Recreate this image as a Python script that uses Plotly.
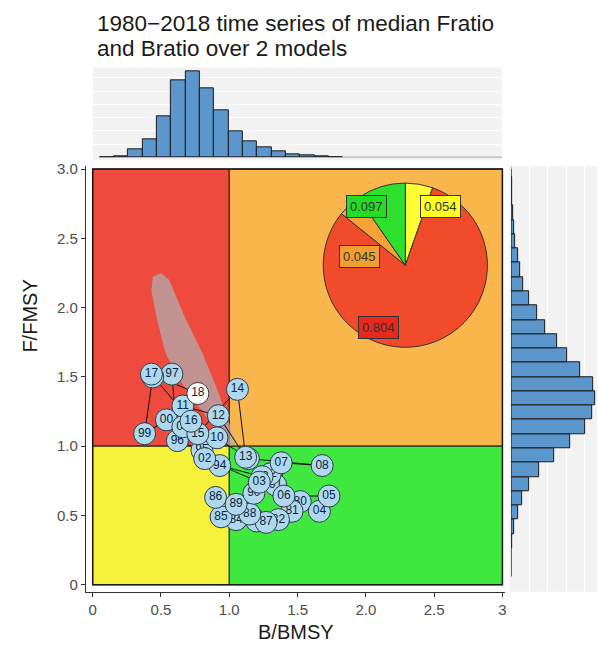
import plotly.graph_objects as go

# ---- Kobe trajectory: median B/BMSY and F/FMSY by year ----
years = list(range(1980, 2019))
b_ratio = [1.52, 1.46, 1.36, 1.20, 1.05, 0.94, 0.90, 1.27, 1.15, 1.05,
           1.18, 1.34, 1.30, 1.24, 0.93, 0.80, 0.62, 0.58, 0.44, 0.38,
           0.54, 0.66, 0.82, 1.22, 1.66, 1.73, 1.40, 1.38, 1.68, 1.14,
           0.91, 0.66, 0.92, 1.12, 1.06, 0.77, 0.72, 0.43, 0.77]
f_ratio = [0.60, 0.53, 0.47, 0.46, 0.47, 0.49, 0.63, 0.45, 0.51, 0.58,
           0.66, 0.72, 0.80, 0.78, 0.86, 0.97, 1.04, 1.52, 1.50, 1.09,
           1.19, 1.14, 0.91, 0.74, 0.53, 0.64, 0.64, 0.88, 0.86, 0.91,
           1.06, 1.29, 1.22, 0.92, 1.41, 1.09, 1.18, 1.52, 1.38]
year_labels = [f"{y % 100:02d}" for y in years]

# ---- Final-year uncertainty region ----
region_b = [0.44, 0.50, 0.56, 0.68, 0.80, 0.90, 0.97, 1.05, 1.00, 0.90,
            0.78, 0.62, 0.53, 0.47, 0.43, 0.44]
region_f = [2.22, 2.25, 2.20, 1.92, 1.68, 1.44, 1.25, 1.02, 1.00, 1.12,
            1.28, 1.50, 1.68, 1.92, 2.12, 2.22]

# ---- Marginal histograms ----
b_bin_start, b_bin_width = 0.05, 0.105
b_counts = [1, 2, 23, 53, 125, 233, 260, 208, 143, 78, 47, 29, 17, 10, 5, 2, 1]
f_bin_start, f_bin_width = 0.058, 0.103
f_counts = [1, 1, 3, 8, 20, 33, 53, 83, 128, 176, 223, 243, 253, 246, 208,
            168, 138, 103, 78, 53, 36, 28, 20, 12, 8, 5, 3, 2, 1]

# ---- Kobe quadrant probabilities (clockwise from 12 o'clock) ----
quad_names = ["yellow", "red", "orange", "green"]
quad_share = [0.054, 0.804, 0.045, 0.097]
pie_colors = ["#FFFF33", "#F24B2C", "#F5A238", "#2EE02E"]
box_colors = ["#FFFF22", "#E8281E", "#F0A030", "#22DD22"]
# label centres in pixels (x, y from top)
box_pos = [(441, 203), (379, 325), (360, 253), (367, 203)]

# ---- Quadrant layout ----
b_ref, f_ref = 1.0, 1.0
b_max, f_max = 3.0, 3.0
zone_colors = {"red": "#EF4A3E", "orange": "#F8B64C",
               "yellow": "#F6F23C", "green": "#3EE83E"}

W, H = 598, 653
def px(x):
    return x / W
def py(y):
    return 1 - y / H

FONT = "Liberation Sans, Arial"

b_centres = [b_bin_start + (i + 0.5) * b_bin_width for i in range(len(b_counts))]
f_centres = [f_bin_start + (i + 0.5) * f_bin_width for i in range(len(f_counts))]

fig = go.Figure()

# uncertainty region
fig.add_trace(go.Scatter(
    x=region_b, y=region_f, mode="lines", fill="toself",
    fillcolor="rgba(175,175,175,0.72)", line=dict(width=0),
    hoverinfo="skip", showlegend=False, xaxis="x", yaxis="y"))

# trajectory path
fig.add_trace(go.Scatter(
    x=b_ratio, y=f_ratio, mode="lines", line=dict(color="#111111", width=1),
    hoverinfo="skip", showlegend=False, xaxis="x", yaxis="y"))

# one labelled point per year, drawn in order so later years sit on top
for i, (b, f, lab) in enumerate(zip(b_ratio, f_ratio, year_labels)):
    fill = "#FFFFFF" if i == len(years) - 1 else "#AFD8EC"
    fig.add_trace(go.Scatter(
        x=[b], y=[f], mode="markers+text", text=[lab],
        textposition="middle center",
        textfont=dict(family=FONT, size=12, color="#0B2440"),
        marker=dict(size=22, color=fill, line=dict(color="#2A3B4C", width=1)),
        name=str(years[i]), showlegend=False, xaxis="x", yaxis="y"))

# top marginal histogram (B/BMSY)
fig.add_trace(go.Bar(
    x=b_centres, y=b_counts, width=b_bin_width,
    marker=dict(color="#5B97CC", line=dict(color="#1A1A1A", width=1)),
    showlegend=False, xaxis="x2", yaxis="y2"))

# right marginal histogram (F/FMSY)
fig.add_trace(go.Bar(
    y=f_centres, x=f_counts, width=f_bin_width, orientation="h",
    marker=dict(color="#5B97CC", line=dict(color="#1A1A1A", width=1)),
    showlegend=False, xaxis="x3", yaxis="y3"))

# quadrant probability pie
pie_cx, pie_cy, pie_r = 406, 262, 83
fig.add_trace(go.Pie(
    values=quad_share, labels=quad_names, sort=False, direction="clockwise",
    rotation=0, textinfo="none", hoverinfo="label+value",
    marker=dict(colors=pie_colors, line=dict(color="#333333", width=1)),
    domain=dict(x=[px(pie_cx - pie_r), px(pie_cx + pie_r)],
                y=[py(pie_cy + pie_r), py(pie_cy - pie_r)]),
    showlegend=False))

shapes = []
# marginal panel backgrounds
shapes.append(dict(type="rect", xref="x2 domain", yref="y2 domain",
                   x0=0, x1=1, y0=-0.03, y1=1, fillcolor="#F2F2F2",
                   line=dict(width=0), layer="below"))
shapes.append(dict(type="rect", xref="x3 domain", yref="y3 domain",
                   x0=-0.02, x1=1, y0=0, y1=1, fillcolor="#F2F2F2",
                   line=dict(width=0), layer="below"))
# histogram baselines
shapes.append(dict(type="line", xref="x2", yref="y2",
                   x0=b_bin_start, x1=b_max, y0=0, y1=0,
                   line=dict(color="#1A1A1A", width=1)))
shapes.append(dict(type="line", xref="x3", yref="y3",
                   x0=0, x1=0, y0=f_bin_start, y1=f_max,
                   line=dict(color="#1A1A1A", width=1)))
# kobe quadrants
zones = [("red", 0, b_ref, f_ref, f_max), ("orange", b_ref, b_max, f_ref, f_max),
         ("yellow", 0, b_ref, 0, f_ref), ("green", b_ref, b_max, 0, f_ref)]
for name, x0, x1, y0, y1 in zones:
    shapes.append(dict(type="rect", xref="x", yref="y", x0=x0, x1=x1, y0=y0, y1=y1,
                       fillcolor=zone_colors[name],
                       line=dict(color="#1A1A1A", width=1), layer="below"))
shapes.append(dict(type="rect", xref="x", yref="y", x0=0, x1=b_max, y0=0, y1=f_max,
                   fillcolor="rgba(0,0,0,0)", line=dict(color="#1A1A1A", width=1.5),
                   layer="below"))

annotations = []
for share, col, (bx, by) in zip(quad_share, box_colors, box_pos):
    annotations.append(dict(
        x=px(bx), y=py(by), xref="paper", yref="paper", showarrow=False,
        xanchor="center", yanchor="middle",
        text=f"{share:.3f}", font=dict(family=FONT, size=13, color="#333333"),
        bgcolor=col, bordercolor="#333333", borderwidth=1, borderpad=3))

title_lines = ["1980\u22122018 time series of median Fratio", "and Bratio over 2 models"]
for line, ty in zip(title_lines, [18, 43]):
    annotations.append(dict(
        x=px(95), y=py(ty), xref="paper", yref="paper", xanchor="left",
        yanchor="middle", showarrow=False, text=line,
        font=dict(family=FONT, size=22.5, color="#1A1A1A")))
annotations.append(dict(
    x=px(30), y=py(313), xref="paper", yref="paper", showarrow=False,
    xanchor="center", yanchor="middle", text="F/FMSY", textangle=-90,
    font=dict(family=FONT, size=20, color="#1A1A1A")))
annotations.append(dict(
    x=px(296), y=py(633), xref="paper", yref="paper", showarrow=False,
    xanchor="center", yanchor="middle", text="B/BMSY",
    font=dict(family=FONT, size=20, color="#1A1A1A")))

tick_font = dict(family=FONT, size=15, color="#4D4D4D")
x_ticks = [0, 0.5, 1.0, 1.5, 2.0, 2.5, 3.0]
x_ticktext = ["0", "0.5", "1.0", "1.5", "2.0", "2.5", "3"]
y_ticktext = ["0", "0.5", "1.0", "1.5", "2.0", "2.5", "3.0"]

fig.update_layout(
    width=W, height=H, margin=dict(l=0, r=0, t=0, b=0),
    paper_bgcolor="white", plot_bgcolor="rgba(0,0,0,0)",
    bargap=0, shapes=shapes, annotations=annotations,
    xaxis=dict(domain=[px(86), px(506)], range=[-0.05, 3.02], anchor="y",
               tickvals=x_ticks, ticktext=x_ticktext, tickfont=tick_font,
               showline=True, linecolor="#333333", linewidth=1,
               ticks="outside", ticklen=4, tickcolor="#333333",
               showgrid=False, zeroline=False),
    yaxis=dict(domain=[py(592), py(162)], range=[-0.05, 3.02], anchor="x",
               tickvals=x_ticks, ticktext=y_ticktext, tickfont=tick_font,
               showline=True, linecolor="#333333", linewidth=1,
               ticks="outside", ticklen=4, tickcolor="#333333",
               showgrid=False, zeroline=False),
    xaxis2=dict(domain=[px(93), px(503)], range=[0, 3], anchor="y2",
                showticklabels=False, ticks="", showgrid=False, zeroline=False,
                showline=False),
    yaxis2=dict(domain=[py(153), py(62)], range=[0, 272], anchor="x2",
                showticklabels=False, ticks="", showgrid=True, gridcolor="white",
                gridwidth=1, dtick=40, zeroline=False, showline=False),
    xaxis3=dict(domain=[px(512), 1.0], range=[0, 258], anchor="y3",
                showticklabels=False, ticks="", showgrid=True, gridcolor="white",
                gridwidth=1, dtick=55, zeroline=False, showline=False),
    yaxis3=dict(domain=[py(592), py(162)], range=[-0.05, 3.02], anchor="x3",
                showticklabels=False, ticks="", showgrid=False, zeroline=False,
                showline=False),
)

fig.write_html("out.html")
